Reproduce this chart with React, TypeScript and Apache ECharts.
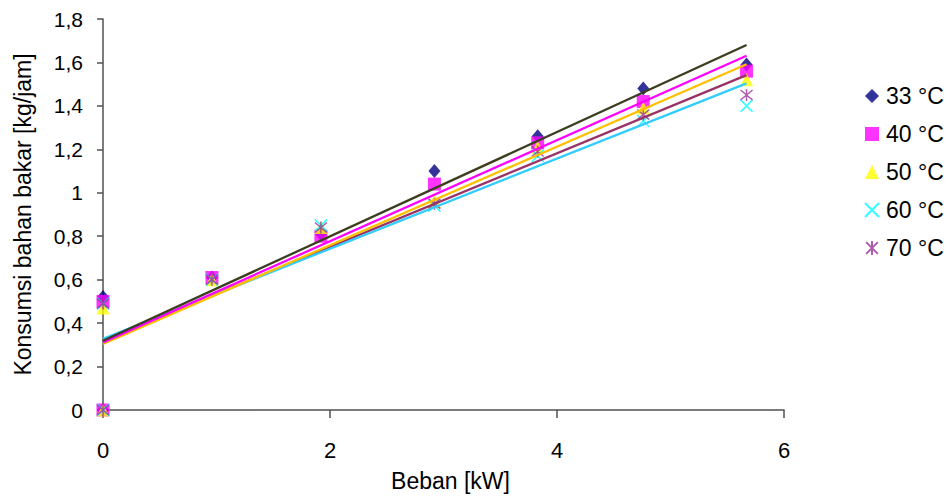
import React, { useEffect, useRef } from "react";
import * as echarts from "echarts";

const beban = [0, 0, 0.96, 1.92, 2.92, 3.83, 4.76, 5.67];
const seriesNames = ["33 °C", "40 °C", "50 °C", "60 °C", "70 °C"];
const s33 = [0, 0.52, 0.61, 0.81, 1.1, 1.26, 1.48, 1.59];
const s40 = [0, 0.5, 0.61, 0.8, 1.04, 1.23, 1.42, 1.56];
const s50 = [0, 0.47, 0.6, 0.84, 0.96, 1.21, 1.39, 1.52];
const s60 = [0, 0.49, 0.6, 0.85, 0.94, 1.17, 1.33, 1.4];
const s70 = [0, 0.49, 0.6, 0.84, 0.95, 1.19, 1.36, 1.45];
const allValues = [s33, s40, s50, s60, s70];

const markerColors = ["#000080", "#FF00FF", "#FFFF00", "#00FFFF", "#993399"];
const trendColors = ["#3d3d1f", "#FF00FF", "#FFC000", "#33CCFF", "#993366"];
const symbols = [
  "diamond",
  "rect",
  "triangle",
  "path://M0,0L10,10M10,0L0,10",
  "path://M0,0L10,10M10,0L0,10M5,-1L5,11",
];
const symbolSizes = [[12, 14], 13, 13, 12, 12];

function fit(xs: number[], ys: number[]) {
  const n = xs.length;
  const mx = xs.reduce((a, b) => a + b, 0) / n;
  const my = ys.reduce((a, b) => a + b, 0) / n;
  let sxy = 0;
  let sxx = 0;
  for (let i = 0; i < n; i++) {
    sxy += (xs[i] - mx) * (ys[i] - my);
    sxx += (xs[i] - mx) * (xs[i] - mx);
  }
  const m = sxy / sxx;
  return { m, b: my - m * mx };
}

const FONT = "Liberation Sans, Arial, sans-serif";

export default function App() {
  const ref = useRef<HTMLDivElement>(null);
  useEffect(() => {
    if (!ref.current) return;
    const chart = echarts.init(ref.current, null, { renderer: "svg" });
    const xMax = Math.max(...beban);
    const scatter = allValues.map((vals, i) => {
      const isLine = i >= 3;
      return {
        type: "scatter",
        name: seriesNames[i],
        data: beban.map((x, j) => [x, vals[j]]),
        symbol: symbols[i],
        symbolSize: symbolSizes[i],
        itemStyle: isLine
          ? { color: "rgba(0,0,0,0)", borderColor: markerColors[i], borderWidth: 1.5 }
          : { color: markerColors[i] },
        z: 2 + i,
      };
    });
    const trends = allValues.map((vals, i) => {
      const { m, b } = fit(beban, vals);
      return {
        type: "line",
        name: "trend" + i,
        data: [
          [0, b],
          [xMax, b + m * xMax],
        ],
        symbol: "none",
        lineStyle: { color: trendColors[i], width: 2.3 },
        z: 20 - i,
        silent: true,
      };
    });
    chart.setOption({
      animation: false,
      textStyle: { fontFamily: FONT },
      grid: { left: 103, top: 19, width: 681, height: 395, containLabel: false },
      legend: {
        orient: "vertical",
        left: 859,
        top: 79,
        data: seriesNames,
        itemGap: 14,
        itemWidth: 14,
        itemHeight: 14,
        textStyle: { fontSize: 23, lineHeight: 24, color: "#000", fontFamily: FONT, padding: [0, 0, 0, 2] },
      },
      xAxis: {
        type: "value",
        min: 0,
        max: 6,
        interval: 2,
        name: "Beban [kW]",
        nameLocation: "middle",
        nameGap: 59,
        nameTextStyle: { fontSize: 23, color: "#000", fontFamily: FONT, padding: [0, 0, 0, 14] },
        axisLine: { show: true, onZero: false, lineStyle: { color: "#505050", width: 1.5 } },
        axisTick: { show: true, inside: false, length: 8, lineStyle: { color: "#505050", width: 1.5 } },
        axisLabel: { fontSize: 22, color: "#000", margin: 29, fontFamily: FONT },
        splitLine: { show: false },
      },
      yAxis: {
        type: "value",
        min: 0,
        max: 1.8,
        interval: 0.2,
        name: "Konsumsi bahan bakar [kg/jam]",
        nameLocation: "middle",
        nameRotate: 90,
        nameGap: 69,
        nameTextStyle: { fontSize: 23, color: "#000", fontFamily: FONT, padding: [0, 0, 0, 0] },
        axisLine: { show: true, onZero: false, lineStyle: { color: "#505050", width: 1.5 } },
        axisTick: { show: true, inside: false, length: 6, lineStyle: { color: "#505050", width: 1.5 } },
        axisLabel: {
          fontSize: 21,
          color: "#000",
          margin: 20,
          fontFamily: FONT,
          formatter: (v: number) => String(Math.round(v * 10) / 10).replace(".", ","),
        },
        splitLine: { show: false },
      },
      series: [...scatter, ...trends],
    });
    return () => chart.dispose();
  }, []);
  return (
    <div
      ref={ref}
      style={{ position: "fixed", left: 0, top: 0, width: 950, height: 497, background: "#fff" }}
    />
  );
}
